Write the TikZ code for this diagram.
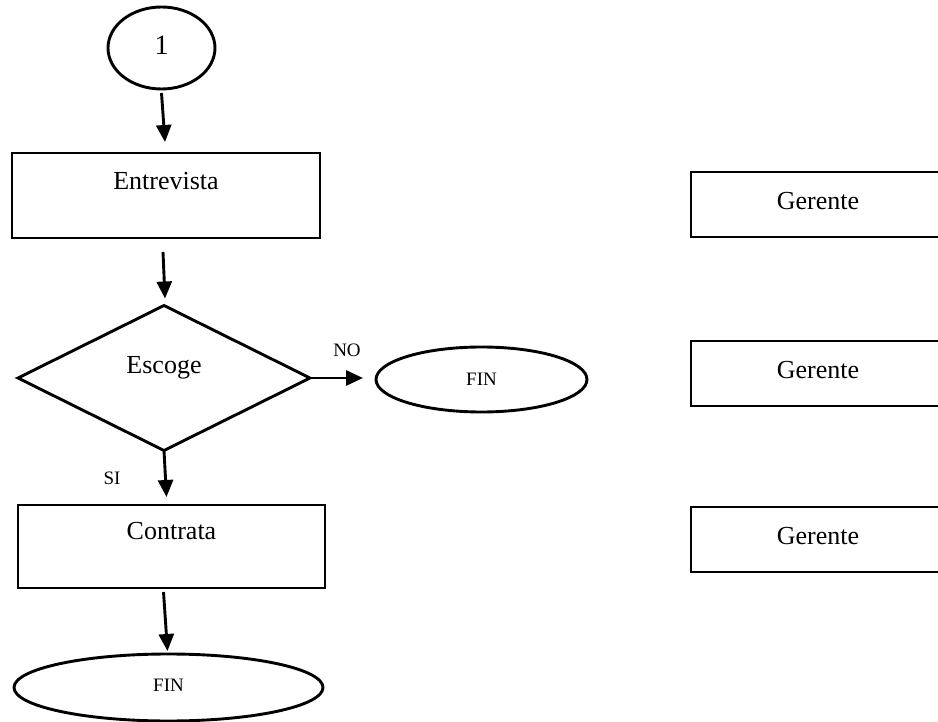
\documentclass[tikz,border=0pt]{standalone}
\usepackage{fontspec}
\setmainfont{Liberation Serif}
\usetikzlibrary{shapes.geometric,arrows.meta}
\begin{document}
\begin{tikzpicture}[x=1pt,y=-1pt,
  every node/.style={inner sep=0pt,outer sep=0pt},
  big/.style={font=\fontsize{26}{31}\selectfont},
  small/.style={font=\fontsize{19}{23}\selectfont},
  proc/.style={draw,line width=2.9pt,rectangle,big},
  term/.style={draw,line width=2.9pt,ellipse},
  decision/.style={draw,line width=2.9pt,diamond,big},
  flow/.style={line width=2.9pt,-{Triangle[length=17pt,width=15pt]}}]

\useasboundingbox (0,0) rectangle (938,722);
\clip (0,0) rectangle (938,722);

% left column: the flow
\node[term,font=\fontsize{28}{33}\selectfont,minimum width=107pt,minimum height=82pt,text depth=6pt] (one) at (161.5,48) {1};
\node[proc,minimum width=308pt,minimum height=85pt,text depth=30pt] (entrevista) at (166,195.5) {Entrevista};
\node[decision,minimum width=292pt,minimum height=145pt,text depth=26pt] (escoge) at (164,378) {Escoge};
\node[term,small,minimum width=211pt,minimum height=65pt] (finno) at (481.5,379.5) {FIN};
\node[proc,minimum width=307pt,minimum height=83pt,text depth=31pt] (contrata) at (171.5,546.5) {Contrata};
\node[term,small,minimum width=309pt,minimum height=67pt,text depth=4pt] (finsi) at (168.5,687.5) {FIN};

% right column: responsible party
\node[proc,minimum width=254pt,minimum height=65pt,text depth=7pt] (g1) at (818,204.5) {Gerente};
\node[proc,minimum width=254pt,minimum height=65pt,text depth=7pt] (g2) at (818,373.5) {Gerente};
\node[proc,minimum width=254pt,minimum height=65pt,text depth=7pt] (g3) at (818,539.5) {Gerente};

% connectors
\draw[flow] ([yshift=-4pt]one.south) -- ([xshift=-1pt,yshift=11pt]entrevista.north);
\draw[flow] ([xshift=-3pt,yshift=-14pt]entrevista.south) -- ([xshift=1pt,yshift=7pt]escoge.north);
\draw[flow,shorten >=13pt] (escoge.east) -- (escoge.east -| finno.west);
\draw[flow] (escoge.south) -- ([xshift=-5pt,yshift=8pt]contrata.north);
\draw[flow] ([xshift=-8pt,yshift=-4pt]contrata.south) -- ([xshift=-1pt,yshift=3pt]finsi.north);

% branch labels
\node[small] (no) at (347,350) {NO};
\node[small] (si) at (112,478) {SI};
\end{tikzpicture}
\end{document}
